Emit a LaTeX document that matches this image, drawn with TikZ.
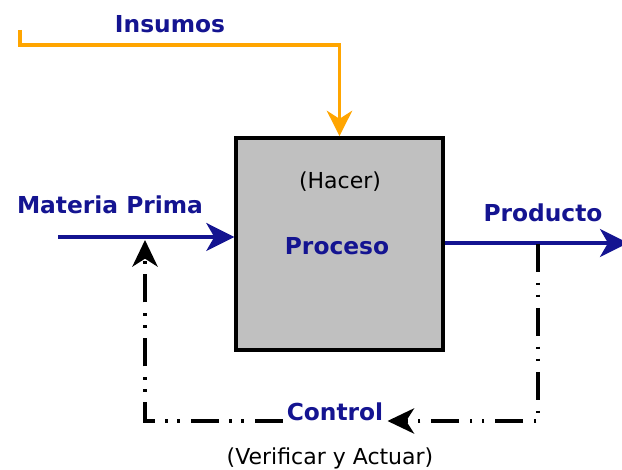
\documentclass[tikz,border=0pt]{standalone}
\usepackage{fontspec}
\setmainfont{DejaVu Sans}
\usetikzlibrary{positioning,arrows.meta}
\definecolor{navy}{RGB}{20,20,145}
\definecolor{insumo}{RGB}{255,165,0}
\definecolor{caja}{RGB}{192,192,192}

\begin{document}
\begin{tikzpicture}[x=0.75pt,y=0.75pt,
   lbl/.style={text=navy,font=\fontsize{17.5}{20}\selectfont\bfseries,inner sep=3pt},
   nota/.style={font=\fontsize{16.5}{19}\selectfont,inner sep=2pt},
   flow/.style={navy,line width=2.6pt,-{Stealth[length=21pt,width=21pt,inset=6pt]}},
   feed/.style={black,line width=2.6pt,
      dash pattern=on 21pt off 8pt on 2pt off 7pt on 2pt off 8pt,
      -{Stealth[length=20pt,width=19pt,inset=6pt]}},
   proceso/.style={draw=black,fill=caja,line width=2.8pt,
      minimum width=155pt,minimum height=159pt}]
   \useasboundingbox (0,0) rectangle (622,470);

   \node[proceso] (proc) at (339.5,226) {};
   \node[nota] (hacer) at (340,288) {(Hacer)};
   \node[lbl] (proceso) at (337,224) {Proceso};

   \node[lbl] (insumos) at (170,446) {Insumos};
   \node[lbl] (materia) at (110,265) {Materia Prima};
   \node[lbl] (producto) at (543,257) {Producto};
   \node[lbl,anchor=base] (control) at (335,49) {Control};
   \node[nota] (verif) at (330,12) {(Verificar y Actuar)};

   \coordinate (ins0) at (20,440);
   \coordinate (mp0) at (58,233);
   \coordinate (pout) at (628,227);
   \coordinate (tap) at (538,226);
   \coordinate (fb) at (145,230);

   % entradas y salida
   \draw[insumo,line width=2.6pt,-{Stealth[length=19pt,width=19pt,inset=6pt]}]
      (ins0) -- ++(0,-15) -| (proc.north);
   \draw[flow] (mp0) -- (mp0 -| proc.west);
   \draw[flow] (proc.east |- pout) -- (pout);

   % lazo de control
   \draw[feed] (tap) |- (control.base east);
   \draw[feed] (control.base west) -| (fb);
\end{tikzpicture}
\end{document}
